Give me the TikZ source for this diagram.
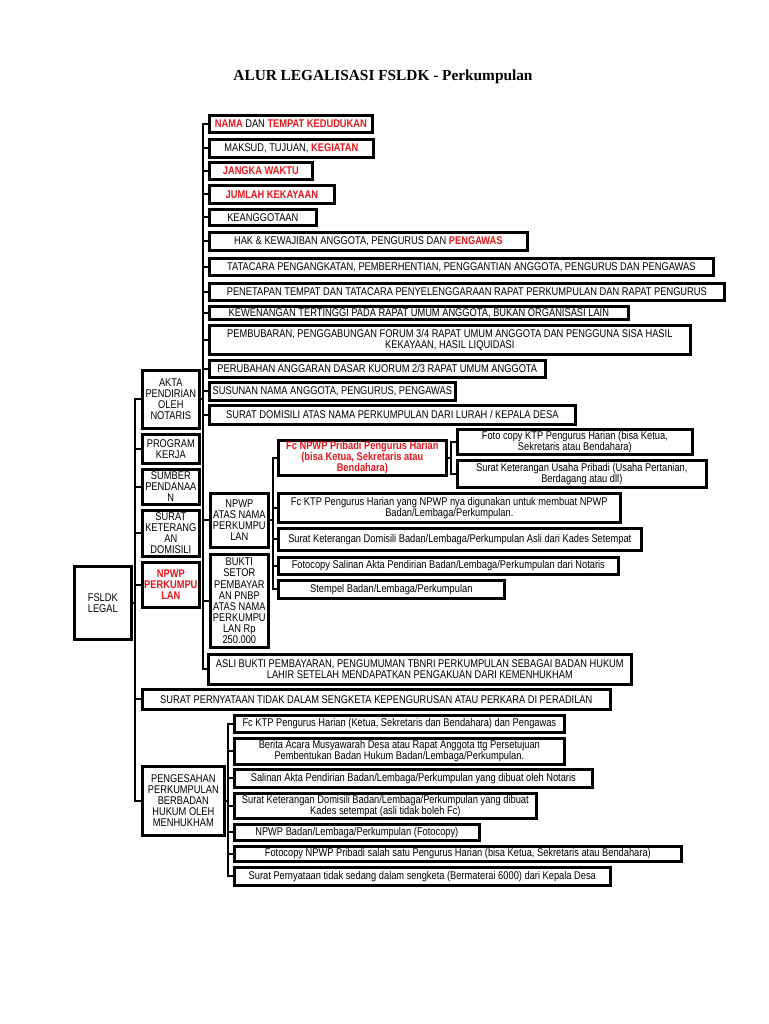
\documentclass[tikz,border=0pt]{standalone}
\usepackage{fontspec}
\setmainfont{Liberation Sans}[FakeStretch=0.83]
\newfontfamily\judulfont{Liberation Serif}
\usetikzlibrary{calc}
\definecolor{merah}{RGB}{232,22,28}
\newcommand{\sorot}[1]{{\color{merah}\bfseries #1}}

\begin{document}
\begin{tikzpicture}[x=0.75pt,y=-0.75pt,
    kotak/.style={draw,line width=2pt,inner sep=0pt,align=center,anchor=north west,
      font=\fontsize{8.4}{8.3}\selectfont},
    bw/.style={minimum width=#1*0.75pt},
    bh/.style={minimum height=#1*0.75pt},
    garis/.style={line width=1.7pt}]
\useasboundingbox (0,0) rectangle (768,1024);

\node[font=\judulfont\bfseries\fontsize{11.5}{13}\selectfont] (judul) at (383,77) {ALUR LEGALISASI FSLDK - Perkumpulan};

% kolom kiri
\node[kotak,bw=57,bh=73] (fsldk) at (73,565) {FSLDK\\LEGAL};
\node[kotak,bw=57,bh=58] (akta) at (141,369) {AKTA\\PENDIRIAN\\OLEH\\NOTARIS};
\node[kotak,bw=57,bh=29] (program) at (141,433) {PROGRAM\\KERJA};
\node[kotak,bw=57,bh=35] (sumber) at (141,468) {SUMBER\\PENDANAA\\N};
\node[kotak,bw=57,bh=46] (domisili) at (141,509) {SURAT\\KETERANG\\AN\\DOMISILI};
\node[kotak,bw=57,bh=45,font=\fontsize{8.4}{8.3}\selectfont\bfseries\color{merah}] (npwpp) at (141,561) {NPWP\\PERKUMPU\\LAN};
\node[kotak,bw=468,bh=20] (pernyataan) at (141,688) {SURAT PERNYATAAN TIDAK DALAM SENGKETA KEPENGURUSAN ATAU PERKARA DI PERADILAN};
\node[kotak,bw=82,bh=69] (pengesahan) at (141,765) {PENGESAHAN\\PERKUMPULAN\\BERBADAN\\HUKUM OLEH\\MENHUKHAM};

% isi akta
\node[kotak,bw=163,bh=17] (nama) at (208,114) {\sorot{NAMA} DAN \sorot{TEMPAT KEDUDUKAN}};
\node[kotak,bw=164,bh=18] (maksud) at (208,138) {MAKSUD, TUJUAN, \sorot{KEGIATAN}};
\node[kotak,bw=103,bh=17] (jangka) at (208,161) {\sorot{JANGKA WAKTU}};
\node[kotak,bw=125,bh=18] (jumlah) at (208,184) {\sorot{JUMLAH KEKAYAAN}};
\node[kotak,bw=107,bh=16] (anggota) at (208,208) {KEANGGOTAAN};
\node[kotak,bw=318,bh=18] (hak) at (208,231) {HAK \& KEWAJIBAN ANGGOTA, PENGURUS DAN \sorot{PENGAWAS}};
\node[kotak,bw=504,bh=17] (tatacara) at (208,257) {TATACARA PENGANGKATAN, PEMBERHENTIAN, PENGGANTIAN ANGGOTA, PENGURUS DAN PENGAWAS};
\node[kotak,bw=515,bh=17] (penetapan) at (208,282) {PENETAPAN TEMPAT DAN TATACARA PENYELENGGARAAN RAPAT PERKUMPULAN DAN RAPAT PENGURUS};
\node[kotak,bw=419,bh=13] (kewenangan) at (208,305) {KEWENANGAN TERTINGGI PADA RAPAT UMUM ANGGOTA, BUKAN ORGANISASI LAIN};
\node[kotak,bw=481,bh=29] (pembubaran) at (208,324) {PEMBUBARAN, PENGGABUNGAN FORUM 3/4 RAPAT UMUM ANGGOTA DAN PENGGUNA SISA HASIL\\KEKAYAAN, HASIL LIQUIDASI};
\node[kotak,bw=336,bh=17] (perubahan) at (208,359) {PERUBAHAN ANGGARAN DASAR KUORUM 2/3 RAPAT UMUM ANGGOTA};
\node[kotak,bw=246,bh=18] (susunan) at (208,381) {SUSUNAN NAMA ANGGOTA, PENGURUS, PENGAWAS};
\node[kotak,bw=366,bh=19] (domisiliatas) at (208,404) {SURAT DOMISILI ATAS NAMA PERKUMPULAN DARI LURAH / KEPALA DESA};

% isi npwp
\node[kotak,bw=58,bh=54] (npwpatas) at (209,492) {NPWP\\ATAS NAMA\\PERKUMPU\\LAN};
\node[kotak,bw=58,bh=93] (bukti) at (209,553) {BUKTI\\SETOR\\PEMBAYAR\\AN PNBP\\ATAS NAMA\\PERKUMPU\\LAN Rp\\250.000};
\node[kotak,bw=423,bh=30] (asli) at (207,653) {ASLI BUKTI PEMBAYARAN, PENGUMUMAN TBNRI PERKUMPULAN SEBAGAI BADAN HUKUM\\LAHIR SETELAH MENDAPATKAN PENGAKUAN DARI KEMENHUKHAM};

\node[kotak,bw=168,bh=35,font=\fontsize{8.4}{8.3}\selectfont\bfseries\color{merah}] (fcnpwp) at (277,439) {Fc NPWP Pribadi Pengurus Harian\\(bisa Ketua, Sekretaris atau\\Bendahara)};
\node[kotak,bw=235,bh=25] (fotoktp) at (456,428) {Foto copy KTP Pengurus Harian (bisa Ketua,\\Sekretaris atau Bendahara)};
\node[kotak,bw=249,bh=27] (usaha) at (456,459) {Surat Keterangan Usaha Pribadi (Usaha Pertanian,\\Berdagang atau dll)};
\node[kotak,bw=342,bh=29] (fcktp) at (277,492) {Fc KTP Pengurus Harian yang NPWP nya digunakan untuk membuat NPWP\\Badan/Lembaga/Perkumpulan.};
\node[kotak,bw=363,bh=22] (ketdom) at (277,527) {Surat Keterangan Domisili Badan/Lembaga/Perkumpulan Asli dari Kades Setempat};
\node[kotak,bw=340,bh=17] (salinan) at (277,556) {Fotocopy Salinan Akta Pendirian Badan/Lembaga/Perkumpulan dari Notaris};
\node[kotak,bw=226,bh=18] (stempel) at (277,579) {Stempel Badan/Lembaga/Perkumpulan};

% isi pengesahan
\node[kotak,bw=330,bh=17] (b1) at (233,714) {Fc KTP Pengurus Harian (Ketua, Sekretaris dan Bendahara) dan Pengawas};
\node[kotak,bw=330,bh=26] (b2) at (233,737) {Berita Acara Musyawarah Desa atau Rapat Anggota ttg Persetujuan\\Pembentukan Badan Hukum Badan/Lembaga/Perkumpulan.};
\node[kotak,bw=358,bh=18] (b3) at (233,768) {Salinan Akta Pendirian Badan/Lembaga/Perkumpulan yang dibuat oleh Notaris};
\node[kotak,bw=302,bh=25] (b4) at (233,792) {Surat Keterangan Domisili Badan/Lembaga/Perkumpulan yang dibuat\\Kades setempat (asli tidak boleh Fc)};
\node[kotak,bw=245,bh=16] (b5) at (233,823) {NPWP Badan/Lembaga/Perkumpulan (Fotocopy)};
\node[kotak,bw=447,bh=15] (b6) at (233,845) {Fotocopy NPWP Pribadi salah satu Pengurus Harian (bisa Ketua, Sekretaris atau Bendahara)};
\node[kotak,bw=376,bh=18] (b7) at (233,866) {Surat Pernyataan tidak sedang dalam sengketa (Bermaterai 6000) dari Kepala Desa};

% garis kolom kiri
\coordinate (t1) at (135,398);
\draw[garis] (akta.west) -- (akta.west -| t1) |- (pengesahan.west);
\draw[garis] (fsldk.east) -- (fsldk.east -| t1);
\foreach \n in {program,sumber,domisili,npwpp,pernyataan}
  \draw[garis] (\n.west) -- (\n.west -| t1);

% garis isi akta dan npwp
\coordinate (t2) at (203,122);
\draw[garis] (nama.west) -- (nama.west -| t2) |- (asli.west);
\draw[garis] (akta.east) -- (akta.east -| t2);
\foreach \n in {maksud,jangka,jumlah,anggota,hak,tatacara,penetapan,kewenangan,pembubaran,perubahan,susunan,domisiliatas,npwpatas,bukti}
  \draw[garis] (\n.west) -- (\n.west -| t2);

\coordinate (t3) at (273,456);
\draw[garis] (fcnpwp.west) -- (fcnpwp.west -| t3) |- (stempel.west);
\draw[garis] (npwpatas.east) -- (npwpatas.east -| t3);
\foreach \n in {fcktp,ketdom,salinan}
  \draw[garis] (\n.west) -- (\n.west -| t3);

\coordinate (t4) at (451,440);
\draw[garis] (fotoktp.west) -- (fotoktp.west -| t4) |- (usaha.west);
\draw[garis] (fcnpwp.east) -- (fcnpwp.east -| t4);

% garis pengesahan
\coordinate (t5) at (228,722);
\draw[garis] (b1.west) -- (b1.west -| t5) |- (b7.west);
\draw[garis] (pengesahan.east) -- (pengesahan.east -| t5);
\foreach \n in {b2,b3,b4,b5,b6}
  \draw[garis] (\n.west) -- (\n.west -| t5);
\end{tikzpicture}
\end{document}
